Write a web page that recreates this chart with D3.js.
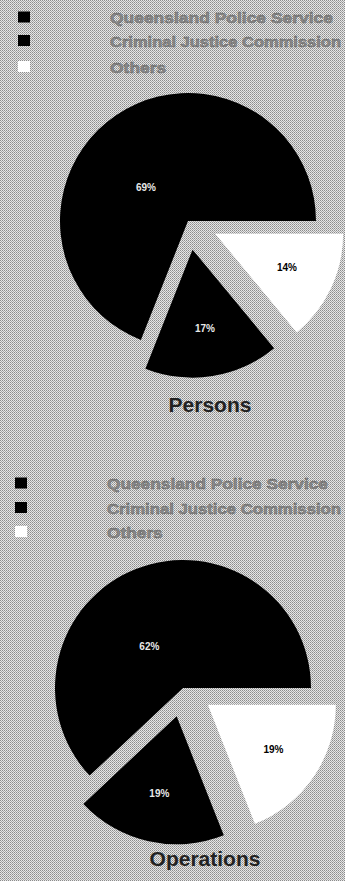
<!DOCTYPE html>
<html><head><meta charset="utf-8">
<script src="https://cdn.jsdelivr.net/npm/d3@7"></script>
<style>html,body{margin:0;padding:0;background:#c0c0c0;overflow:hidden}</style>
</head><body>
<script>
const categories = ["Queensland Police Service", "Criminal Justice Commission", "Others"];
const colors = ["#000000", "#000000", "#ffffff"];
const personsValues = [69, 17, 14];
const operationsValues = [62, 19, 19];
const titles = ["Persons", "Operations"];

const W = 345, H = 881;
const svg = d3.select("body").append("svg").attr("width", W).attr("height", H);
const defs = svg.append("defs");
const pat = defs.append("pattern").attr("id","dither").attr("width",2).attr("height",2).attr("patternUnits","userSpaceOnUse");
pat.append("rect").attr("width",2).attr("height",2).attr("fill","#e6e6e6");
pat.append("rect").attr("x",0).attr("y",0).attr("width",1).attr("height",1).attr("fill","#8c8c8c");
pat.append("rect").attr("x",1).attr("y",1).attr("width",1).attr("height",1).attr("fill","#a8a8a8");
svg.append("rect").attr("width",W).attr("height",H).attr("fill","url(#dither)");

const charts = [
  {values: personsValues, title: titles[0], legend:{sx:18, tx:110, ys:[17.5,41,67], w:223}, cx:188, cy:221, r:128, titleX:210, titleY:412},
  {values: operationsValues, title: titles[1], legend:{sx:15, tx:107, ys:[483.5,508,532], w:221}, cx:183, cy:688, r:128, titleX:205, titleY:866}
];

charts.forEach(c => {
  const lg = svg.append("g");
  categories.forEach((cat, i) => {
    lg.append("rect").attr("x", c.legend.sx).attr("y", c.legend.ys[i]-6).attr("width", 12).attr("height", 11)
      .attr("fill", colors[i]);
  });
  const texts = lg.selectAll("text").data(categories).join("text")
    .attr("x", c.legend.tx).attr("y", (d,i)=>c.legend.ys[i]+5.5)
    .attr("font-family","Liberation Sans, Arial, sans-serif").attr("font-size",15).attr("font-weight","bold")
    .attr("fill","#8a8a8a").attr("stroke","#5a5a5a").attr("stroke-width",0.4)
    .text(d=>d);
  const w0 = texts.nodes()[0].getComputedTextLength();
  const k = c.legend.w / w0;
  const avail = W - 4 - c.legend.tx;
  texts.each(function(){
    const wl = this.getComputedTextLength();
    const target = Math.min(wl*k, avail);
    d3.select(this).attr("textLength", target).attr("lengthAdjust","spacingAndGlyphs");
  });

  const total = d3.sum(c.values);
  const scale = d3.scaleLinear().domain([0,total]).range([0, 2*Math.PI]);
  const a0 = Math.PI/2;
  const main = {start: a0 - scale(c.values[0]), end: a0};
  const oth = {start: a0, end: a0 + scale(c.values[2])};
  const cjc = {start: oth.end, end: oth.end + scale(c.values[1])};
  const slices = [
    {i:0, ...main, off:0, lr:0.42},
    {i:1, ...cjc, off:29, lr:0.62},
    {i:2, ...oth, off:30, lr:0.62}
  ];
  const arc = d3.arc().innerRadius(0).outerRadius(c.r);
  const g = svg.append("g").attr("transform",`translate(${c.cx},${c.cy})`);
  slices.forEach(s => {
    const mid = (s.start+s.end)/2;
    const dx = Math.sin(mid)*s.off, dy = -Math.cos(mid)*s.off;
    const sg = g.append("g").attr("transform",`translate(${dx},${dy})`);
    sg.append("path").attr("d", arc({startAngle:s.start, endAngle:s.end})).attr("fill", colors[s.i]);
    let la = mid;
    if (s.i===0) la = mid - 0.3;
    const lr = c.r*s.lr;
    sg.append("text").attr("x", Math.sin(la)*lr).attr("y", -Math.cos(la)*lr + 3.5)
      .attr("text-anchor","middle")
      .attr("font-family","Liberation Sans, Arial, sans-serif").attr("font-size",10).attr("font-weight","bold")
      .attr("fill", s.i===2 ? "#000" : "#e8e8e8")
      .text(c.values[s.i] + "%");
  });
  svg.append("text").attr("x", c.titleX).attr("y", c.titleY).attr("text-anchor","middle")
    .attr("font-family","Liberation Sans, Arial, sans-serif").attr("font-size",21).attr("font-weight","bold")
    .attr("fill","#222").text(c.title);
});
</script>
</body></html>
